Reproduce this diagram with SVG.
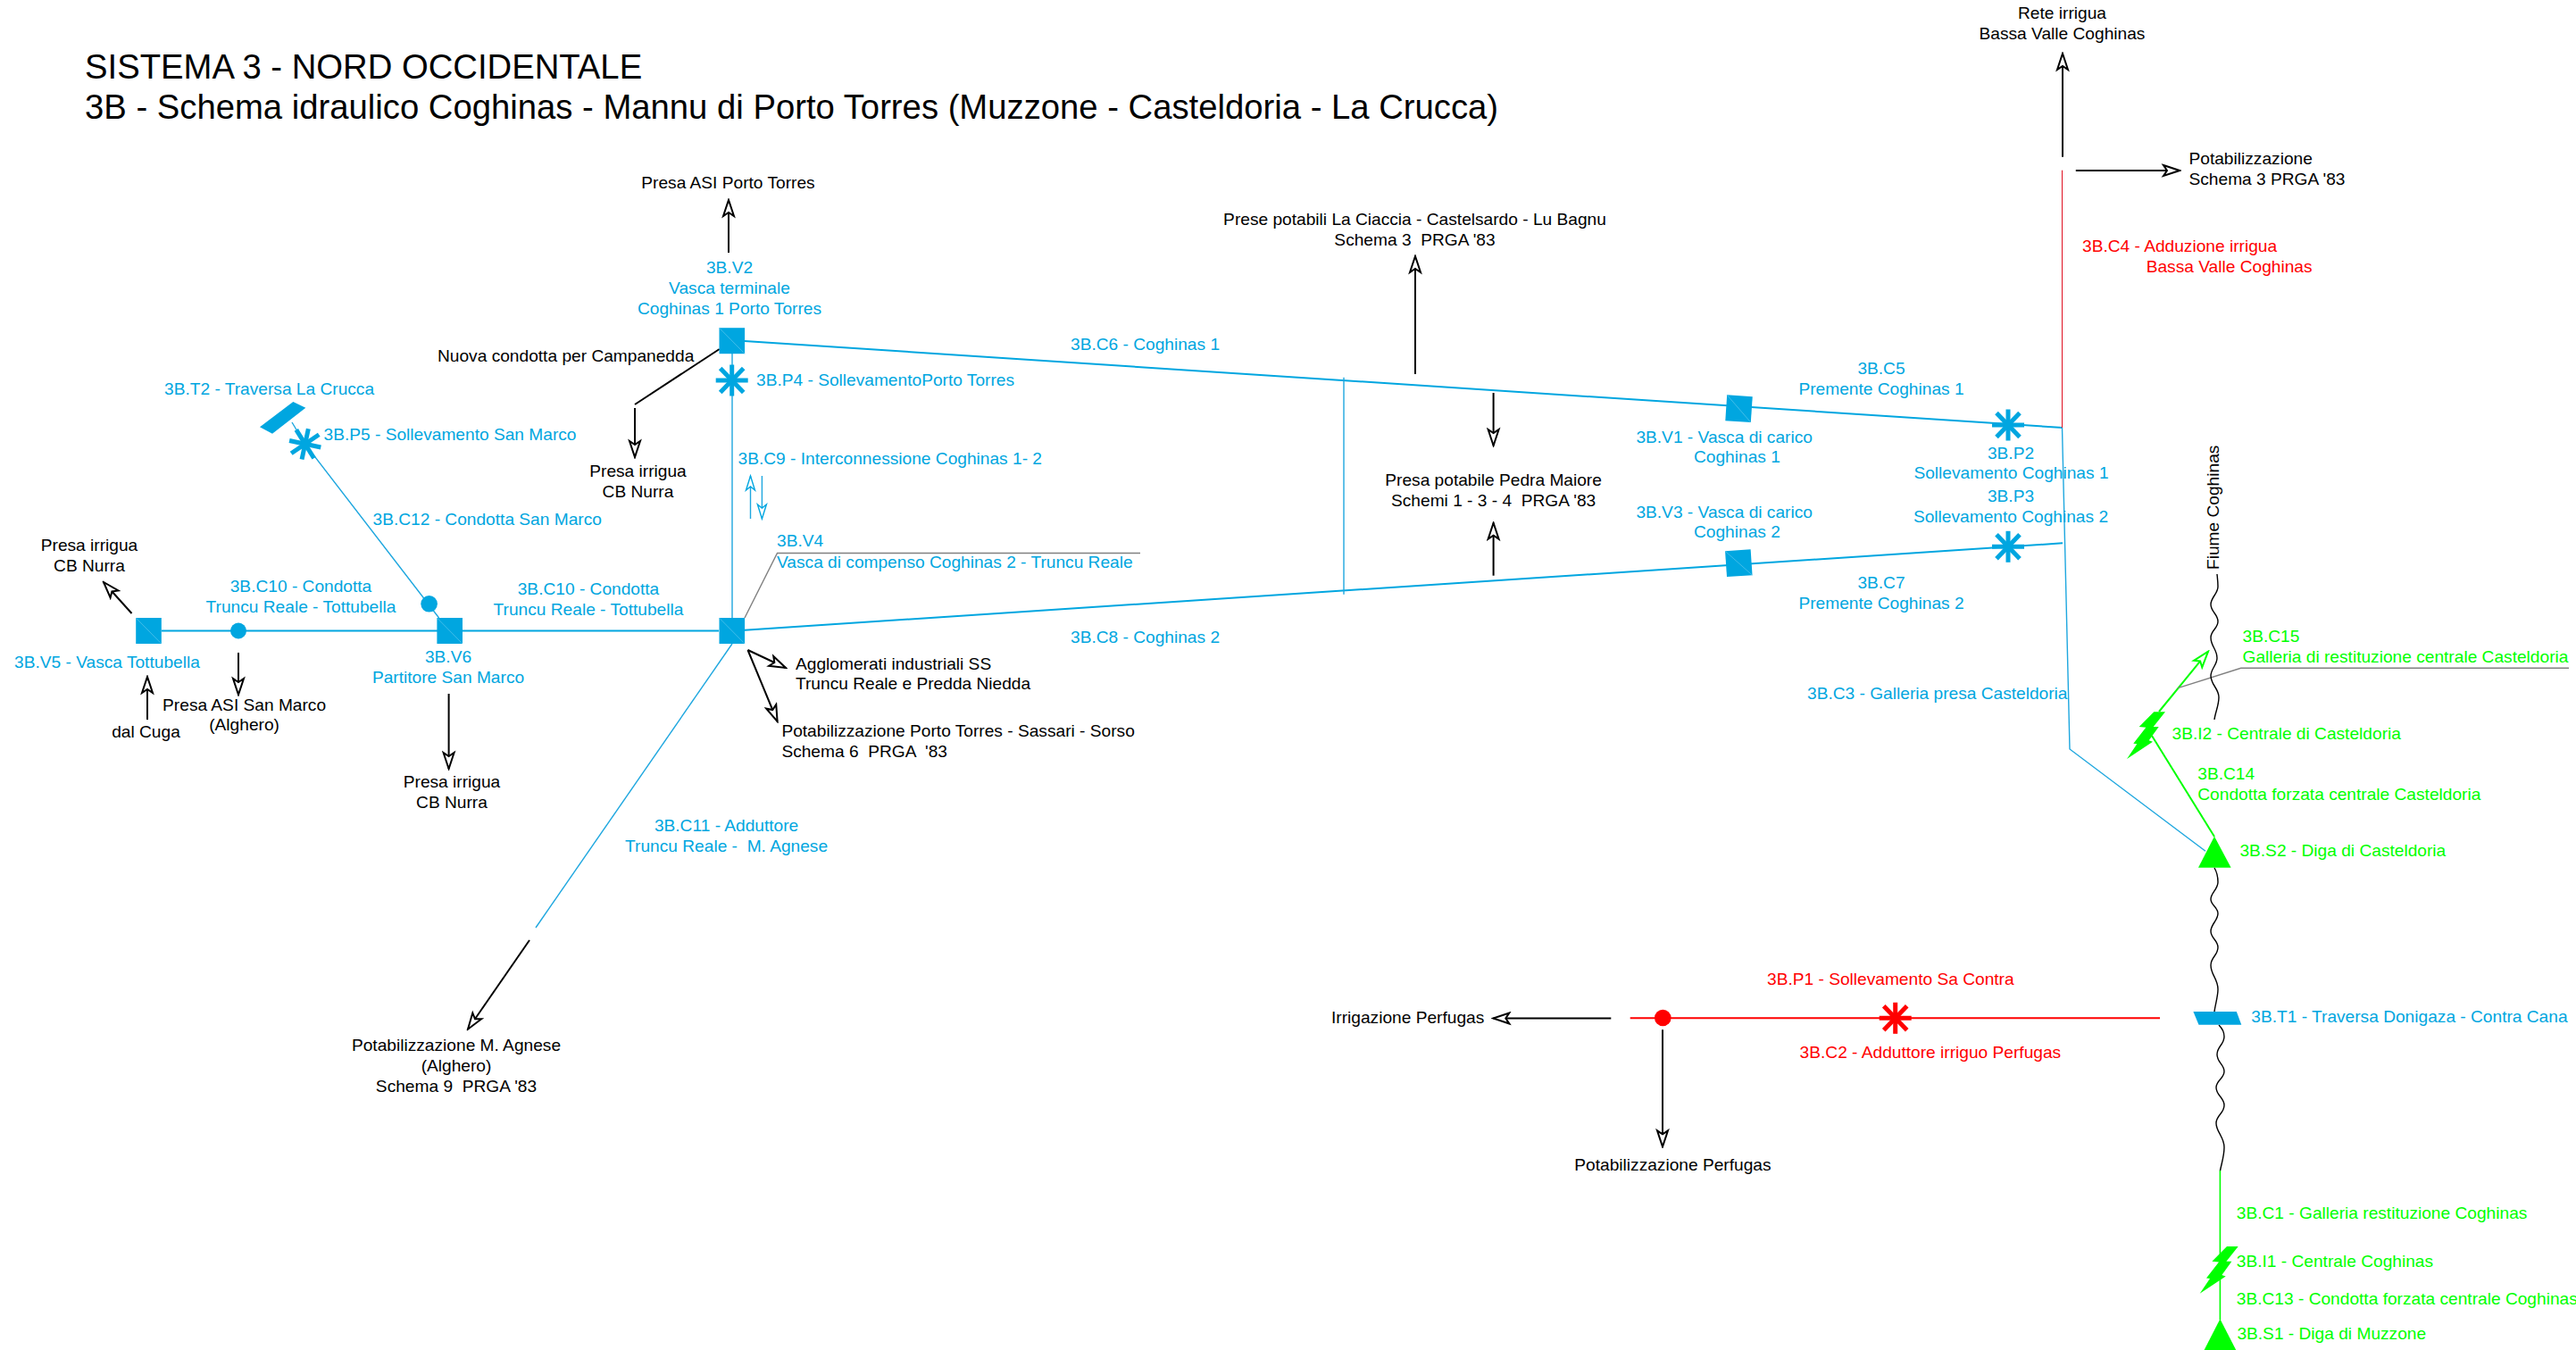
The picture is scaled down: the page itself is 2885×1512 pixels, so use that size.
<svg xmlns="http://www.w3.org/2000/svg" xmlns:xlink="http://www.w3.org/1999/xlink" width="2885" height="1512" viewBox="0 0 2885 1512">
<style>
text{font-family:"Liberation Sans",Arial,sans-serif;font-size:19.15px;fill:#000}
.title{font-size:38.25px}
.b{fill:#00a6e0}.g{fill:#00ff00}.r{fill:#ff0000}
.m{text-anchor:middle}
line,polyline,path.l{fill:none;stroke-linecap:butt}
.bl{stroke:#00a6e0;stroke-width:2}
.bt{stroke:#1ea7df;stroke-width:1.4}
.gl{stroke:#00ff00;stroke-width:2}
.rl{stroke:#ff0000;stroke-width:2}
.ar{stroke:#000;stroke-width:2;marker-end:url(#hk)}
.river{stroke:#000;stroke-width:1.4;fill:none}
.lead{stroke:#808080;stroke-width:1.4;fill:none}
.fb{fill:#00a6e0}.fg{fill:#00ff00}.fr{fill:#ff0000}
</style>
<defs>
<marker id="hk" viewBox="-21 -8 23 16" markerWidth="23" markerHeight="16" refX="0" refY="0" orient="auto" markerUnits="userSpaceOnUse"><path d="M-18 -6 L0 0 L-18 6 L-14 0 Z" fill="#fff" stroke="#000" stroke-width="2"/></marker>
<marker id="hb" viewBox="-21 -8 23 16" markerWidth="23" markerHeight="16" refX="0" refY="0" orient="auto" markerUnits="userSpaceOnUse"><path d="M-16 -5 L0 0 L-16 5 L-12 0 Z" fill="#fff" stroke="#00a6e0" stroke-width="1.4"/></marker>
<marker id="hg" viewBox="-21 -8 23 16" markerWidth="23" markerHeight="16" refX="0" refY="0" orient="auto" markerUnits="userSpaceOnUse"><path d="M-18 -6 L0 0 L-18 6 L-14 0 Z" fill="#fff" stroke="#00ff00" stroke-width="2"/></marker>
<g id="sq"><rect x="-14.3" y="-14.5" width="28.6" height="29" fill="#00a6e0"/><line x1="-14.3" y1="-14.5" x2="14.3" y2="14.5" stroke="#5cc6ec" stroke-width="0.7"/></g>
<g id="star" stroke="currentColor" stroke-width="5" fill="none"><line x1="-18" y1="0" x2="18" y2="0"/><line x1="0" y1="-17.5" x2="0" y2="17.5"/><line x1="-13" y1="-13.5" x2="13" y2="13.5"/><line x1="13" y1="-13.5" x2="-13" y2="13.5"/></g>
<path id="bolt" d="M32.3 17.3H45L31.7 34H37.7L26.7 49.3L31 50.7L2 70L13.3 53.3L9.3 52.7L23.3 34.7L15.7 34Z" fill="#00ff00"/>
</defs>
<g id="titles">
<text class="title" x="95" y="88">SISTEMA 3 - NORD OCCIDENTALE</text>
<text class="title" x="95" y="133">3B - Schema idraulico Coghinas - Mannu di Porto Torres (Muzzone - Casteldoria - La Crucca)</text>
</g>
<g id="connectors">
<line class="bl" x1="834" y1="382" x2="2310" y2="479"/>
<line class="bl" x1="834" y1="705.7" x2="2310" y2="608.3"/>
<line class="bt" x1="1505" y1="422.7" x2="1505" y2="665.7"/>
<line class="bl" x1="181" y1="706.4" x2="805" y2="706.4"/>
<line class="bt" x1="820" y1="396" x2="820" y2="692"/>
<line class="bt" x1="820" y1="721" x2="600" y2="1039"/>
<polyline class="bt" points="327,473 341.7,497.3 491.6,692"/>
<polyline class="bt" points="2309.5,479 2318,839 2470,953.3"/>
<line x1="2309.5" y1="190.7" x2="2309.5" y2="479" stroke="#e01020" stroke-width="1"/>
<line class="rl" x1="1825.7" y1="1140.3" x2="2419" y2="1140.3"/>
<line class="gl" x1="2486.4" y1="1310.7" x2="2486.4" y2="1478" style="stroke-width:1.6"/>
<line class="gl" x1="2480" y1="937" x2="2410" y2="824"/>
<line class="gl" x1="2418" y1="797" x2="2473" y2="729.7" style="marker-end:url(#hg)"/>
<polyline class="lead" points="834,692 870.5,619.5 1277,619.5"/>
<polyline class="lead" points="2439,770.7 2509.7,748.3 2877,748.3"/>
<line class="bt" x1="840.5" y1="581" x2="840.5" y2="533" style="marker-end:url(#hb)"/>
<line class="bt" x1="853.4" y1="533" x2="853.4" y2="581" style="marker-end:url(#hb)"/>
<line class="ar" x1="816" y1="283" x2="816" y2="224"/>
<line class="ar" x1="805.7" y1="391" x2="711" y2="453" style="marker-end:none"/>
<line class="ar" x1="711" y1="457" x2="711" y2="512"/>
<line class="ar" x1="147.5" y1="687" x2="116" y2="652"/>
<line class="ar" x1="267" y1="731" x2="267" y2="778"/>
<line class="ar" x1="165" y1="806" x2="165" y2="758"/>
<line class="ar" x1="502.6" y1="777" x2="502.6" y2="861"/>
<line class="ar" x1="837.5" y1="728" x2="880" y2="748"/>
<line class="ar" x1="837.5" y1="728" x2="870.6" y2="808"/>
<line class="ar" x1="593" y1="1053" x2="524" y2="1152.7"/>
<line class="ar" x1="1585" y1="419" x2="1585" y2="287"/>
<line class="ar" x1="1672.6" y1="440" x2="1672.6" y2="499"/>
<line class="ar" x1="1672.6" y1="644.7" x2="1672.6" y2="585.7"/>
<line class="ar" x1="2310" y1="175.7" x2="2310" y2="60"/>
<line class="ar" x1="2324.8" y1="191" x2="2441" y2="191"/>
<line class="ar" x1="1804.3" y1="1140.5" x2="1672.3" y2="1140.5"/>
<line class="ar" x1="1862" y1="1153.3" x2="1862" y2="1284.3"/>
<path class="river" d="M2483 643C2483.5 648 2484 652 2484 657C2484 665 2476 669 2476 677C2476 685 2484 688 2484 696C2484 704 2476 706 2476 714C2476 724 2483 727 2483 737C2483 745 2476 749 2476 757C2476 767 2485 771 2485 781C2485 790 2481 798 2480 806"/>
<path class="river" d="M2480 972C2483 977 2484 982 2484 988C2484 996 2476 1000 2476 1007C2476 1014 2484 1016 2484 1023C2484 1031 2476 1035 2476 1043C2476 1051 2484 1053 2484 1061C2484 1070 2476 1072 2476 1081C2476 1092 2484 1096 2484 1108C2484 1116 2481 1125 2480 1133"/>
<path class="river" d="M2485 1148C2489 1152 2491 1156 2491 1161C2491 1170 2483 1172 2483 1181C2483 1190 2491 1192 2491 1200C2491 1208 2482 1210 2482 1218C2482 1227 2491 1229 2491 1238C2491 1247 2482 1249 2482 1258C2482 1268 2491 1273 2491 1285C2491 1295 2488 1303 2486.5 1311"/>
</g>
<g id="V2"><use xlink:href="#sq" x="819.8" y="381.7"/>
<text class="b m" x="817" y="306">3B.V2</text><text class="b m" x="817" y="329">Vasca terminale</text><text class="b m" x="817" y="352">Coghinas 1 Porto Torres</text></g>
<g id="P4" color="#00a6e0"><use xlink:href="#star" x="819.7" y="426"/><text class="b" x="847" y="432">3B.P4 - SollevamentoPorto Torres</text></g>
<g id="T2"><polygon class="fb" points="328.3,450 342.3,456.7 305,485.7 291,478.3"/><text class="b" x="184" y="442">3B.T2 - Traversa La Crucca</text></g>
<g id="P5" color="#00a6e0"><use xlink:href="#star" transform="translate(341.7 497.3) rotate(12)"/><text class="b" x="362.5" y="493">3B.P5 - Sollevamento San Marco</text></g>
<g id="V5"><use xlink:href="#sq" x="166.5" y="706.5"/><text class="b" x="16" y="747.7">3B.V5 - Vasca Tottubella</text></g>
<g id="J1"><circle class="fb" cx="267" cy="706.5" r="9"/></g>
<g id="J2"><circle class="fb" cx="480.6" cy="676.3" r="9.3"/></g>
<g id="V6"><use xlink:href="#sq" x="503.7" y="706.5"/><text class="b m" x="502" y="742">3B.V6</text><text class="b m" x="502" y="765">Partitore San Marco</text></g>
<g id="V4"><use xlink:href="#sq" x="819.8" y="706.5"/><text class="b" x="870" y="612">3B.V4</text><text class="b" x="870" y="635.7">Vasca di compenso Coghinas 2 - Truncu Reale</text></g>
<g id="V1"><use xlink:href="#sq" transform="translate(1947.5 457.7) rotate(3.8)"/><text class="b" x="1832.4" y="495.7">3B.V1 - Vasca di carico</text><text class="b" x="1897" y="518">Coghinas 1</text></g>
<g id="V3"><use xlink:href="#sq" transform="translate(1947.3 630.7) rotate(-3.8)"/><text class="b" x="1832.4" y="580">3B.V3 - Vasca di carico</text><text class="b" x="1897" y="602">Coghinas 2</text></g>
<g id="P2" color="#00a6e0"><use xlink:href="#star" x="2249" y="476"/><text class="b m" x="2252" y="513.5">3B.P2</text><text class="b m" x="2252.5" y="536">Sollevamento Coghinas 1</text></g>
<g id="P3" color="#00a6e0"><use xlink:href="#star" x="2249" y="612.3"/><text class="b m" x="2252" y="562">3B.P3</text><text class="b m" x="2252" y="585">Sollevamento Coghinas 2</text></g>
<g id="P1" color="#ff0000"><use xlink:href="#star" x="2122.7" y="1140.3"/><text class="r" x="1979" y="1103">3B.P1 - Sollevamento Sa Contra</text></g>
<g id="J3"><circle class="fr" cx="1862.3" cy="1140" r="9.3"/></g>
<g id="T1"><polygon class="fb" points="2456.4,1133 2504.8,1133 2510.3,1147.7 2462.5,1147.7"/><text class="b" x="2521.3" y="1144.7">3B.T1 - Traversa Donigaza - Contra Cana</text></g>
<g id="S2"><polygon class="fg" points="2480,936.7 2498.6,971.7 2462,971.7"/><text class="g" x="2508.4" y="959.3">3B.S2 - Diga di Casteldoria</text></g>
<g id="I2"><use xlink:href="#bolt" x="2380" y="780"/><text class="g" x="2432.5" y="828">3B.I2 - Centrale di Casteldoria</text></g>
<g id="I1"><use xlink:href="#bolt" x="2461.7" y="1378.7"/><text class="g" x="2504.8" y="1418.7">3B.I1 - Centrale Coghinas</text></g>
<g id="S1"><polygon class="fg" points="2486.4,1477.3 2504.2,1512 2468.6,1512"/><text class="g" x="2505.4" y="1500">3B.S1 - Diga di Muzzone</text></g>
<g id="labels">
<text class="m" x="815.5" y="211">Presa ASI Porto Torres</text>
<text x="490" y="405">Nuova condotta per Campanedda</text>
<text class="m" x="714.5" y="534">Presa irrigua</text><text class="m" x="714.5" y="557">CB Nurra</text>
<text class="m" x="100" y="617">Presa irrigua</text><text class="m" x="100" y="640">CB Nurra</text>
<text class="m" x="273.6" y="795.7">Presa ASI San Marco</text><text class="m" x="273.6" y="818">(Alghero)</text>
<text class="m" x="163.5" y="826">dal Cuga</text>
<text class="m" x="506" y="882">Presa irrigua</text><text class="m" x="506" y="905">CB Nurra</text>
<text x="891" y="749.7">Agglomerati industriali SS</text><text x="891" y="772">Truncu Reale e Predda Niedda</text>
<text x="875.4" y="825">Potabilizzazione Porto Torres - Sassari - Sorso</text><text x="875.4" y="848" xml:space="preserve">Schema 6  PRGA  '83</text>
<text class="m" x="511" y="1176.7">Potabilizzazione M. Agnese</text><text class="m" x="511" y="1199.7">(Alghero)</text><text class="m" x="511" y="1222.7" xml:space="preserve">Schema 9  PRGA '83</text>
<text class="m" x="1584.5" y="251.7">Prese potabili La Ciaccia - Castelsardo - Lu Bagnu</text><text class="m" x="1584.5" y="274.7" xml:space="preserve">Schema 3  PRGA '83</text>
<text class="m" x="1672.6" y="544">Presa potabile Pedra Maiore</text><text class="m" x="1672.6" y="566.7" xml:space="preserve">Schemi 1 - 3 - 4  PRGA '83</text>
<text class="m" x="2309.5" y="21">Rete irrigua</text><text class="m" x="2309.5" y="44">Bassa Valle Coghinas</text>
<text x="2451.5" y="183.7">Potabilizzazione</text><text x="2451.5" y="206.7">Schema 3 PRGA '83</text>
<text x="1491" y="1145.7">Irrigazione Perfugas</text>
<text x="1763.3" y="1311">Potabilizzazione Perfugas</text>
<text transform="translate(2485 638) rotate(-90)">Fiume Coghinas</text>
<text class="b" x="417.5" y="588">3B.C12 - Condotta San Marco</text>
<text class="b" x="826.5" y="520">3B.C9 - Interconnessione Coghinas 1- 2</text>
<text class="b m" x="337" y="663">3B.C10 - Condotta</text><text class="b m" x="337" y="686">Truncu Reale - Tottubella</text>
<text class="b m" x="659" y="665.7">3B.C10 - Condotta</text><text class="b m" x="659" y="688.5">Truncu Reale - Tottubella</text>
<text class="b m" x="813.6" y="931">3B.C11 - Adduttore</text><text class="b m" x="813.6" y="954" xml:space="preserve">Truncu Reale -  M. Agnese</text>
<text class="b" x="1199" y="391.7">3B.C6 - Coghinas 1</text>
<text class="b" x="1199" y="719.7">3B.C8 - Coghinas 2</text>
<text class="b m" x="2107" y="419.3">3B.C5</text><text class="b m" x="2107" y="442">Premente Coghinas 1</text>
<text class="b m" x="2107" y="659">3B.C7</text><text class="b m" x="2107" y="681.7">Premente Coghinas 2</text>
<text class="b" x="2024" y="782.7">3B.C3 - Galleria presa Casteldoria</text>
<text class="r" x="2332" y="282.3">3B.C4 - Adduzione irrigua</text><text class="r" x="2403.7" y="305">Bassa Valle Coghinas</text>
<text class="r" x="2015.6" y="1184.7">3B.C2 - Adduttore irriguo Perfugas</text>
<text class="g" x="2511.5" y="719">3B.C15</text><text class="g" x="2511.5" y="742.3">Galleria di restituzione centrale Casteldoria</text>
<text class="g" x="2461.3" y="872.7">3B.C14</text><text class="g" x="2461.3" y="895.7">Condotta forzata centrale Casteldoria</text>
<text class="g" x="2504.8" y="1365">3B.C1 - Galleria restituzione Coghinas</text>
<text class="g" x="2504.8" y="1460.7">3B.C13 - Condotta forzata centrale Coghinas</text>
</g>
</svg>
